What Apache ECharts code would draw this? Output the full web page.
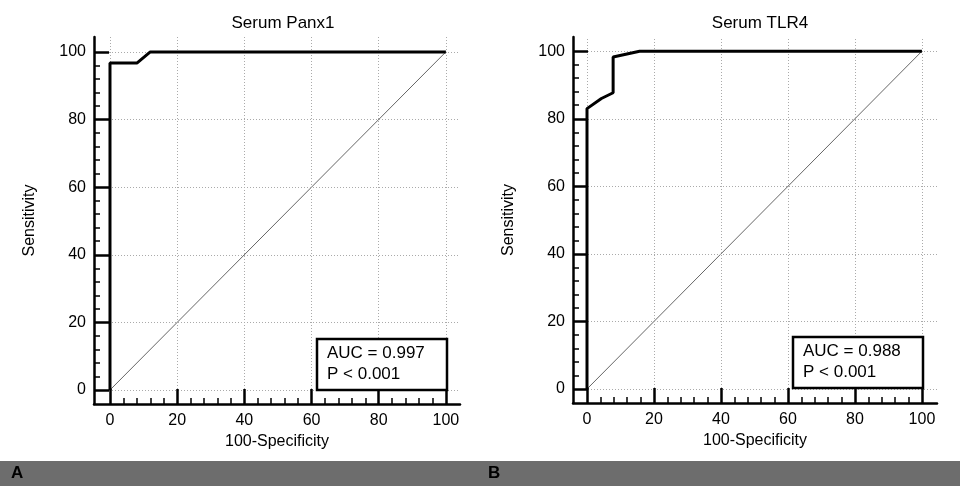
<!DOCTYPE html>
<html>
<head>
<meta charset="utf-8">
<script src="https://cdn.jsdelivr.net/npm/echarts@6/dist/echarts.min.js"></script>
<style>
html,body{margin:0;padding:0;background:#fff;}
#c{width:960px;height:486px;}
</style>
</head>
<body>
<div id="c"></div>
<script>
// ---- data ----
const majorTicks = [0, 20, 40, 60, 80, 100];
const minorTicks = [4, 8, 12, 16, 24, 28, 32, 36, 44, 48, 52, 56, 64, 68, 72, 76, 84, 88, 92, 96];
const panelTitles = ['Serum Panx1', 'Serum TLR4'];
const panelLetters = ['A', 'B'];
const aucTexts = ['AUC = 0.997\nP < 0.001', 'AUC = 0.988\nP < 0.001'];
const panx1Fpr = [0, 0, 8, 12, 100];
const panx1Tpr = [0, 96.7, 96.7, 100, 100];
const tlr4Fpr = [0, 0, 4.3, 7.8, 7.8, 15.7, 100];
const tlr4Tpr = [0, 83, 86, 87.7, 98.3, 100, 100];
const diagX = [0, 100];
const diagY = [0, 100];

const FONT = 'Liberation Sans, Arial, sans-serif';
const zip = (a, b) => a.map((v, i) => [v, b[i]]);

const grids = [
  {left: 94, top: 37, width: 366, height: 367, xmin: -4.76, xmax: 104.2, ymin: -4.14, ymax: 104.4},
  {left: 573, top: 37, width: 364, height: 366, xmin: -4.18, xmax: 104.5, ymin: -4.14, ymax: 104.2}
];

const xAxis = [], yAxis = [], series = [];
grids.forEach((g, i) => {
  xAxis.push({
    gridIndex: i, type: 'value', min: g.xmin, max: g.xmax, position: 'bottom', z: 10,
    name: '100-Specificity', nameLocation: 'middle', nameGap: 30,
    nameTextStyle: {color: '#000', fontSize: 16, fontFamily: FONT},
    axisLine: {show: true, onZero: false, lineStyle: {color: '#000', width: 2.5}},
    axisTick: {show: true, inside: true, length: 15, customValues: majorTicks, lineStyle: {color: '#000', width: 2.5}},
    axisLabel: {show: true, customValues: majorTicks, color: '#000', fontSize: 16, fontFamily: FONT, margin: 9},
    splitLine: {show: false}
  });
  xAxis.push({
    gridIndex: i, type: 'value', min: g.xmin, max: g.xmax, position: 'bottom', offset: 0, z: 10,
    axisLine: {show: false, onZero: false},
    axisTick: {show: true, inside: true, length: 6, customValues: minorTicks, lineStyle: {color: '#000', width: 1.5}},
    axisLabel: {show: false},
    splitLine: {show: false}
  });
  yAxis.push({
    gridIndex: i, type: 'value', min: g.ymin, max: g.ymax, position: 'left', z: 10,
    name: 'Sensitivity', nameLocation: 'middle', nameGap: 56,
    nameTextStyle: {color: '#000', fontSize: 16, fontFamily: FONT},
    axisLine: {show: true, onZero: false, lineStyle: {color: '#000', width: 2.5}},
    axisTick: {show: true, inside: true, length: 15, customValues: majorTicks, lineStyle: {color: '#000', width: 2.5}},
    axisLabel: {show: true, customValues: majorTicks, color: '#000', fontSize: 16, fontFamily: FONT, margin: 8},
    splitLine: {show: false}
  });
  yAxis.push({
    gridIndex: i, type: 'value', min: g.ymin, max: g.ymax, position: 'left', offset: 0, z: 10,
    axisLine: {show: false, onZero: false},
    axisTick: {show: true, inside: true, length: 6, customValues: minorTicks, lineStyle: {color: '#000', width: 1.5}},
    axisLabel: {show: false},
    splitLine: {show: false}
  });
  // diagonal + grid lines
  series.push({
    type: 'line', xAxisIndex: i * 2, yAxisIndex: i * 2, silent: true,
    data: zip(diagX, diagY), symbol: 'none', z: 2,
    lineStyle: {color: '#666', width: 1},
    markLine: {
      silent: true, symbol: 'none', label: {show: false},
      lineStyle: {color: '#aaa', type: [1, 2], width: 1},
      data: majorTicks.map(v => ({xAxis: v})).concat(majorTicks.map(v => ({yAxis: v})))
    }
  });
});
series.push({
  type: 'line', xAxisIndex: 0, yAxisIndex: 0, data: zip(panx1Fpr, panx1Tpr),
  symbol: 'none', z: 5, lineStyle: {color: '#000', width: 3}
});
series.push({
  type: 'line', xAxisIndex: 2, yAxisIndex: 2, data: zip(tlr4Fpr, tlr4Tpr),
  symbol: 'none', z: 5, lineStyle: {color: '#000', width: 3}
});

const boxes = [
  {x: 317, y: 339, w: 130, h: 51},
  {x: 793, y: 337, w: 130, h: 51}
];
const graphic = [];
boxes.forEach((b, i) => {
  graphic.push({
    type: 'rect', z: 100, shape: {x: b.x, y: b.y, width: b.w, height: b.h},
    style: {fill: '#fff', stroke: '#000', lineWidth: 2.5}
  });
  graphic.push({
    type: 'text', z: 101, x: b.x + 10, y: b.y + 4,
    style: {text: aucTexts[i], fill: '#000', font: '17px ' + FONT, lineHeight: 21}
  });
});
graphic.push({
  type: 'rect', z: 100, shape: {x: 0, y: 461, width: 960, height: 25},
  style: {fill: '#6d6d6d'}
});
graphic.push({type: 'text', z: 101, x: 11, y: 465, style: {text: panelLetters[0], fill: '#000', font: 'bold 17px ' + FONT}});
graphic.push({type: 'text', z: 101, x: 488, y: 465, style: {text: panelLetters[1], fill: '#000', font: 'bold 17px ' + FONT}});

const chart = echarts.init(document.getElementById('c'), null, {renderer: 'canvas'});
chart.setOption({
  animation: false,
  backgroundColor: '#fff',
  title: [
    {text: panelTitles[0], left: 278, top: 10, textAlign: 'center', textStyle: {color: '#000', fontSize: 17, fontWeight: 'normal', fontFamily: FONT}},
    {text: panelTitles[1], left: 755, top: 10, textAlign: 'center', textStyle: {color: '#000', fontSize: 17, fontWeight: 'normal', fontFamily: FONT}}
  ],
  grid: grids.map(g => ({left: g.left, top: g.top, width: g.width, height: g.height, containLabel: false})),
  xAxis, yAxis, series, graphic
});
</script>
</body>
</html>
